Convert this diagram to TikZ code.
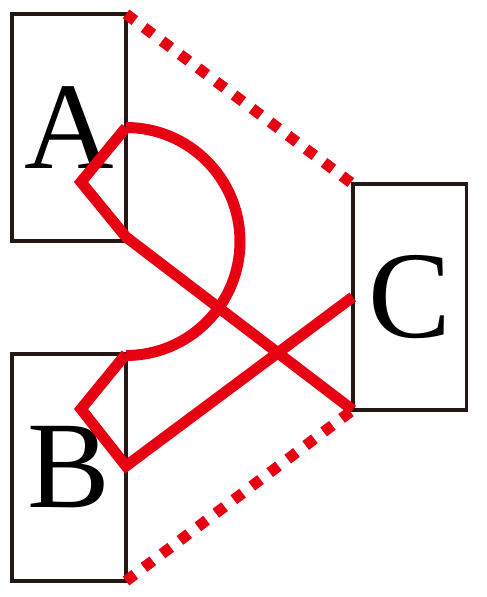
\documentclass[tikz,border=0pt]{standalone}
\usepackage{fontspec}
\setmainfont{Liberation Serif}
\definecolor{boxline}{HTML}{231815}
\definecolor{linkred}{HTML}{E60012}
\begin{document}
\begin{tikzpicture}[x=1pt,y=-1pt,
  box/.style={draw=boxline, line width=3.5pt, rectangle, inner sep=0pt, outer sep=0pt,
    minimum width=114pt, minimum height=227pt,
    font=\fontsize{124}{124}\selectfont},
  redline/.style={draw=linkred, line width=11pt, miter limit=10},
  reddot/.style={draw=linkred, line width=11pt, dash pattern=on 11pt off 11.5pt}]
\useasboundingbox (0,0) rectangle (487,597);
\node[box] (A) at (69,127.5) {A};
\node[box] (B) at (69,467.5) {B};
\node[box, minimum width=113.5pt, minimum height=226pt] (C) at (409.5,297) {C};
\coordinate (a1) at (81,182);
\coordinate (a2) at (126,237);
\coordinate (b1) at (81,409);
\coordinate (b2) at (126,466);
\draw[reddot] (A.north east) -- (C.north west);
\draw[reddot] (B.south east) -- (C.south west);
\draw[redline] (A.east) -- (a1) -- (a2) -- (C.south west);
\draw[redline] (A.east) arc[start angle=90, end angle=-90, radius=114pt];
\draw[redline] (B.north east) -- (b1) -- (b2) -- (C.west);
\end{tikzpicture}
\end{document}
